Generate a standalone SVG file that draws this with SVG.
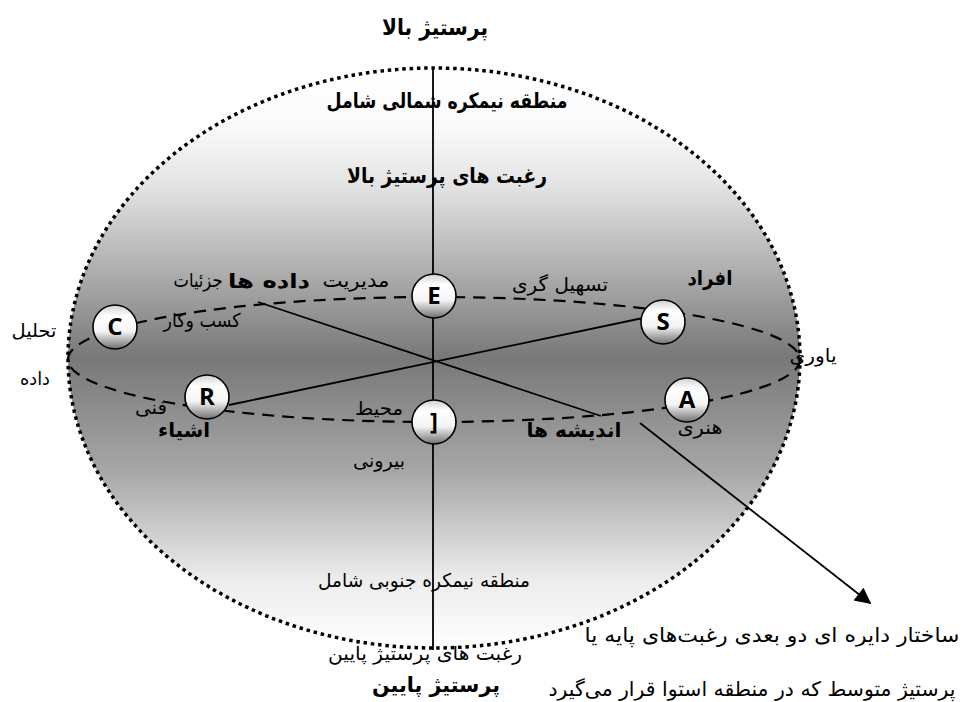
<svg xmlns="http://www.w3.org/2000/svg" width="963" height="702" viewBox="0 0 963 702">
<defs>
<linearGradient id="bigGrad" x1="0" y1="0" x2="0" y2="1">
<stop offset="0" stop-color="#ffffff"/>
<stop offset="0.1" stop-color="#fafafa"/>
<stop offset="0.2" stop-color="#e4e4e4"/>
<stop offset="0.5" stop-color="#787878"/>
<stop offset="0.7" stop-color="#a8a8a8"/>
<stop offset="0.88" stop-color="#ececec"/>
<stop offset="1" stop-color="#ffffff"/>
</linearGradient>
<linearGradient id="nodeGrad" x1="0" y1="0" x2="0" y2="1">
<stop offset="0" stop-color="#d0d0d0"/>
<stop offset="0.25" stop-color="#ffffff"/>
<stop offset="0.6" stop-color="#f4f4f4"/>
<stop offset="1" stop-color="#707070"/>
</linearGradient>
<marker id="arrow" viewBox="0 0 10 10" refX="9" refY="5" markerWidth="10" markerHeight="9" orient="auto" markerUnits="strokeWidth">
<path d="M0,0 L10,5 L0,10 z" fill="#000"/>
</marker>
<style>
.fa{font-family:"DejaVu Sans","Noto Sans",sans-serif;fill:#000;text-anchor:middle;}
.b{font-weight:bold;}
.node circle{fill:url(#nodeGrad);stroke:#000;stroke-width:1.6;}
.node text{font-family:"Open Sans","DejaVu Sans",sans-serif;font-weight:bold;font-size:24px;text-anchor:middle;fill:#000;}
.ln{stroke:#000;stroke-width:1.8;fill:none;}
.dash{stroke:#000;stroke-width:2.2;fill:none;stroke-dasharray:12 8;}
</style>
</defs>

<g id="sphere">
<ellipse cx="434" cy="358" rx="366" ry="290" fill="url(#bigGrad)"/>
<ellipse cx="434" cy="358" rx="366" ry="290" fill="none" stroke="#000" stroke-width="3.5" stroke-dasharray="3.5 3.8"/>
</g>

<g id="connectors">
<ellipse class="dash" cx="434" cy="359.5" rx="366" ry="62.5"/>
<line class="ln" x1="433" y1="68" x2="433" y2="650"/>
<line class="ln" x1="229" y1="405" x2="643" y2="318"/>
<line class="ln" x1="258" y1="302" x2="601" y2="416"/>
<line class="ln" x1="640" y1="423" x2="870" y2="603" marker-end="url(#arrow)"/>
</g>

<g id="node-E" class="node"><circle cx="434" cy="296" r="22"/><text x="434" y="304">E</text></g>
<g id="node-I" class="node"><circle cx="434" cy="422" r="22"/><text x="434" y="430">]</text></g>
<g id="node-C" class="node"><circle cx="115" cy="327" r="22"/><text x="115" y="335">C</text></g>
<g id="node-R" class="node"><circle cx="207" cy="397" r="22"/><text x="207" y="405">R</text></g>
<g id="node-S" class="node"><circle cx="663" cy="322" r="22"/><text x="663" y="330">S</text></g>
<g id="node-A" class="node"><circle cx="687" cy="400" r="22"/><text x="687" y="408">A</text></g>

<g id="labels">
<text class="fa b" x="435" y="35" font-size="22" textLength="106" lengthAdjust="spacingAndGlyphs">پرستیژ بالا</text>
<text class="fa b" x="447" y="108" font-size="21" textLength="241" lengthAdjust="spacingAndGlyphs">منطقه نیمکره شمالی شامل</text>
<text class="fa b" x="447" y="183" font-size="21" textLength="200" lengthAdjust="spacingAndGlyphs">رغبت های پرستیژ بالا</text>
<text class="fa" x="356" y="287" font-size="19" textLength="67" lengthAdjust="spacingAndGlyphs">مدیریت</text>
<text class="fa b" x="269" y="288" font-size="20" textLength="82" lengthAdjust="spacingAndGlyphs">داده ها</text>
<text class="fa" x="198" y="287" font-size="19" textLength="49" lengthAdjust="spacingAndGlyphs">جزئیات</text>
<text class="fa" x="560" y="291" font-size="19" textLength="96" lengthAdjust="spacingAndGlyphs">تسهیل گری</text>
<text class="fa b" x="710" y="285" font-size="20" textLength="45" lengthAdjust="spacingAndGlyphs">افراد</text>
<text class="fa" x="202" y="327" font-size="19" textLength="77" lengthAdjust="spacingAndGlyphs">کسب وکار</text>
<text class="fa" x="34" y="337" font-size="18" textLength="45" lengthAdjust="spacingAndGlyphs">تحلیل</text>
<text class="fa" x="35" y="385" font-size="18" textLength="30" lengthAdjust="spacingAndGlyphs">داده</text>
<text class="fa" x="151" y="414" font-size="19" textLength="32" lengthAdjust="spacingAndGlyphs">فنی</text>
<text class="fa b" x="184" y="437" font-size="20" textLength="52" lengthAdjust="spacingAndGlyphs">اشیاء</text>
<text class="fa" x="379" y="415" font-size="19" textLength="48" lengthAdjust="spacingAndGlyphs">محیط</text>
<text class="fa b" x="574" y="437" font-size="20" textLength="95" lengthAdjust="spacingAndGlyphs">اندیشه ها</text>
<text class="fa" x="379" y="467" font-size="19" textLength="52" lengthAdjust="spacingAndGlyphs">بیرونی</text>
<text class="fa" x="813" y="362" font-size="18" textLength="47" lengthAdjust="spacingAndGlyphs">یاوری</text>
<text class="fa" x="700" y="434" font-size="19" textLength="45" lengthAdjust="spacingAndGlyphs">هنری</text>
<text class="fa" x="424" y="587" font-size="19" textLength="212" lengthAdjust="spacingAndGlyphs">منطقه نیمکره جنوبی شامل</text>
<text class="fa" x="425" y="660" font-size="19" textLength="194" lengthAdjust="spacingAndGlyphs">رغبت های پرستیژ پایین</text>
<text class="fa b" x="436" y="692" font-size="21" textLength="128" lengthAdjust="spacingAndGlyphs">پرستیژ پایین</text>
<text class="fa" x="772" y="642" font-size="20" textLength="375" lengthAdjust="spacingAndGlyphs">ساختار دایره ای دو بعدی رغبت‌های پایه یا</text>
<text class="fa" x="752" y="696" font-size="20" textLength="407" lengthAdjust="spacingAndGlyphs">پرستیژ متوسط که در منطقه استوا قرار می‌گیرد</text>
</g>
</svg>
